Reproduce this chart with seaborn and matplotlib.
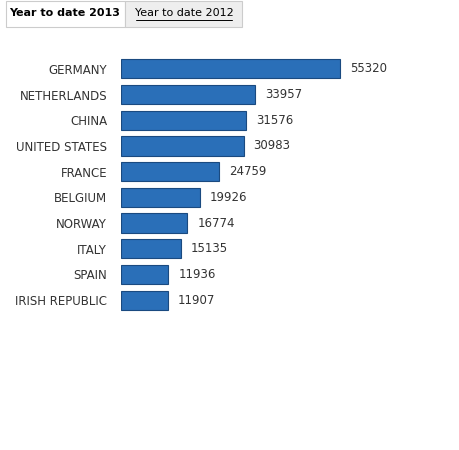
import matplotlib
matplotlib.use("Agg")
import matplotlib.pyplot as plt
import seaborn as sns
import pandas as pd
from matplotlib.patches import Rectangle

countries = ["GERMANY", "NETHERLANDS", "CHINA", "UNITED STATES", "FRANCE",
             "BELGIUM", "NORWAY", "ITALY", "SPAIN", "IRISH REPUBLIC"]
values = [55320, 33957, 31576, 30983, 24759, 19926, 16774, 15135, 11936, 11907]
tabs = ["Year to date 2013", "Year to date 2012"]

sns.set_theme(style="white")
plt.rcParams['font.family'] = ['DejaVu Sans']
df = pd.DataFrame({"country": countries, "value": values})

fig = plt.figure(figsize=(4.6, 4.5), dpi=100)
ax = fig.add_axes([121/460, 1-313/450, 339/460, 257/450])
sns.barplot(data=df, x="value", y="country", color="#2a6fb8", saturation=1,
            edgecolor="#1a4a80", linewidth=0.8, width=0.75, ax=ax)
ax.set_xlim(0, 55320*339/219)
ax.set_xlabel(""); ax.set_ylabel("")
ax.set_xticks([])
for s in ax.spines.values():
    s.set_visible(False)
ax.tick_params(axis="y", length=0, pad=10, labelsize=8.5, labelcolor="#333333")
for i, v in enumerate(values):
    ax.text(v + 55320*10/219, i, str(v), va="center", ha="left", fontsize=8.5, color="#333333")

# tabs
fig.patches.append(Rectangle((6/460, 1-27/450), 119/460, 26/450, transform=fig.transFigure,
                             facecolor="white", edgecolor="#cccccc", lw=0.8))
fig.patches.append(Rectangle((125/460, 1-27/450), 117/460, 26/450, transform=fig.transFigure,
                             facecolor="#eeeeee", edgecolor="#cccccc", lw=0.8))
fig.text(65/460, 1-13/450, tabs[0], ha="center", va="center", fontsize=8, fontweight="bold", color="black")
t = fig.text(184/460, 1-13/450, tabs[1], ha="center", va="center", fontsize=8, color="black")
fig.lines.append(plt.Line2D([136/460, 232/460], [1-20/450, 1-20/450], transform=fig.transFigure,
                            color="black", lw=0.7))
fig.savefig("out.png", dpi=100)
